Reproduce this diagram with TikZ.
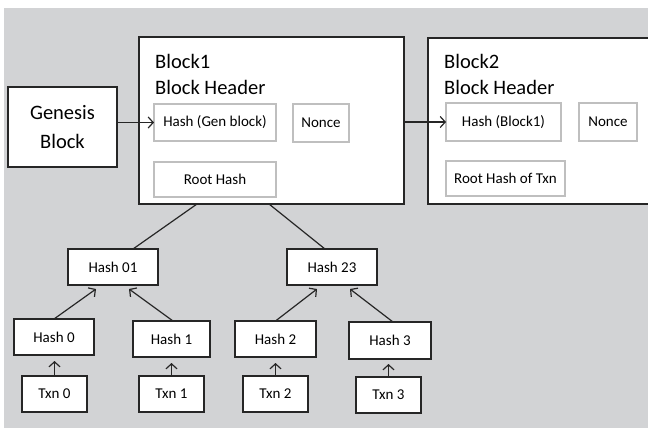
\documentclass[tikz,border=0pt]{standalone}
\usepackage{fontspec}
\setmainfont{Carlito}
\usetikzlibrary{arrows.meta}
\definecolor{bggray}{HTML}{D2D3D5}
\definecolor{boxline}{HTML}{262626}
\definecolor{innerline}{HTML}{BFBFBF}
\tikzset{
  big/.style={font=\fontsize{20.5}{29}\selectfont},
  small/.style={font=\fontsize{15}{18}\selectfont},
  outerbox/.style={draw=boxline, line width=1.4pt, fill=white, inner sep=0pt, outer sep=0pt},
  innerbox/.style={draw=innerline, line width=1.8pt, fill=white, inner sep=0pt, outer sep=0pt, small},
  treebox/.style={draw=boxline, line width=1.4pt, fill=white, inner sep=0pt, outer sep=0pt, small},
  conn/.style={draw=boxline, line width=1.2pt},
  arr/.style={conn, -{Straight Barb[length=5pt,width=11pt,line width=1.2pt]}},
}
\begin{document}
\begin{tikzpicture}[x=1pt,y=-1pt]
\useasboundingbox (0,0) rectangle (648,429);
\clip (0,0) rectangle (648,429);
\fill[bggray] (4,8) rectangle (648,428);
% top blocks
\node[outerbox, big, align=center, minimum width=109pt, minimum height=80pt] (gen) at (62.5,127) {Genesis\\Block};
\node[outerbox, minimum width=265pt, minimum height=167pt] (b1) at (271.5,120.5) {};
\node[outerbox, minimum width=240pt, minimum height=166pt] (b2) at (548,121) {};
\node[big, anchor=base west, inner sep=0pt] (b1t) at (155,68) {Block1};
\node[big, anchor=base west, inner sep=0pt] (b1h) at (155,94) {Block Header};
\node[big, anchor=base west, inner sep=0pt] (b2t) at (444,68) {Block2};
\node[big, anchor=base west, inner sep=0pt] (b2h) at (444,94) {Block Header};
% inner boxes
\node[innerbox, minimum width=122pt, minimum height=37pt] (hg) at (215,122.5) {Hash (Gen block)};
\node[innerbox, minimum width=56pt, minimum height=38pt] (n1) at (321,123) {Nonce};
\node[innerbox, minimum width=122pt, minimum height=35pt] (rh) at (215,179.5) {Root Hash};
\node[innerbox, minimum width=115pt, minimum height=38pt] (hb1) at (503.5,122) {Hash (Block1)};
\node[innerbox, minimum width=58pt, minimum height=38pt] (n2) at (608,122) {Nonce};
\node[innerbox, minimum width=119pt, minimum height=35pt] (rt) at (505.5,178.5) {Root Hash of Txn};
% tree
\node[treebox, minimum width=90pt, minimum height=36pt] (h01) at (113,267) {Hash 01};
\node[treebox, minimum width=90pt, minimum height=36pt] (h23) at (332,267) {Hash 23};
\node[treebox, minimum width=80pt, minimum height=36pt] (h0) at (54,337) {Hash 0};
\node[treebox, minimum width=77pt, minimum height=36pt] (h1) at (171.5,339) {Hash 1};
\node[treebox, minimum width=81pt, minimum height=36pt] (h2) at (275.5,339) {Hash 2};
\node[treebox, minimum width=82pt, minimum height=37pt] (h3) at (390,340.5) {Hash 3};
\node[treebox, minimum width=65pt, minimum height=36pt] (t0) at (54.5,394) {Txn 0};
\node[treebox, minimum width=65pt, minimum height=36pt] (t1) at (171.5,394) {Txn 1};
\node[treebox, minimum width=65pt, minimum height=36pt] (t2) at (275.5,394) {Txn 2};
\node[treebox, minimum width=65pt, minimum height=36pt] (t3) at (388.5,395) {Txn 3};
% connectors
\draw[arr] (gen.east |- hg.west) -- (hg.west);
\draw[arr] (b1.east |- hb1.west) -- (hb1.west);
\draw[conn] ([xshift=58pt]b1.south west) -- ([xshift=65pt]h01.north west);
\draw[conn] ([xshift=130pt]b1.south west) -- ([xshift=38pt]h23.north west);
\draw[arr] (h0.north) -- ([xshift=28pt,yshift=-4pt]h01.south west);
\draw[arr] ([xshift=40pt]h1.north west) -- ([xshift=61pt,yshift=-4pt]h01.south west);
\draw[arr] (h2.north) -- ([xshift=30pt,yshift=-4pt]h23.south west);
\draw[arr] ([xshift=44pt]h3.north west) -- ([xshift=63pt,yshift=-4pt]h23.south west);
\draw[arr, shorten >=6pt] (t0.north) -- (t0.north |- h0.south);
\draw[arr, shorten >=6pt] (t1.north) -- (t1.north |- h1.south);
\draw[arr, shorten >=6pt] (t2.north) -- (t2.north |- h2.south);
\draw[arr, shorten >=5pt] (t3.north) -- (t3.north |- h3.south);
\end{tikzpicture}
\end{document}
